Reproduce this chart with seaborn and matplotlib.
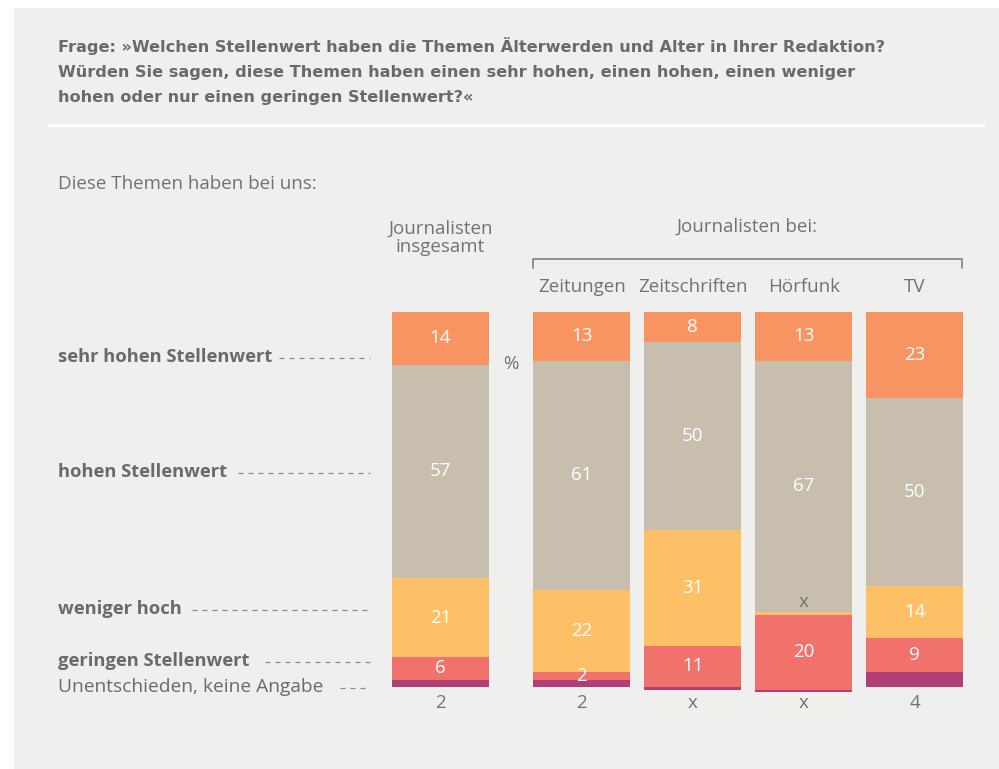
import numpy as np
import pandas as pd
import matplotlib
matplotlib.use("Agg")
import matplotlib.pyplot as plt
import seaborn as sns
from matplotlib.patches import Rectangle

# Chart data (percent). None = "x" (less than 0.5 %)
categories = ["sehr hohen Stellenwert", "hohen Stellenwert", "weniger hoch",
              "geringen Stellenwert", "Unentschieden, keine Angabe"]
groups_total = ["Journalisten\ninsgesamt"]
groups_media = ["Zeitungen", "Zeitschriften", "Hörfunk", "TV"]
values_total = [[14, 57, 21, 6, 2]]
values_media = [
    [13, 61, 22, 2, 2],
    [8, 50, 31, 11, None],
    [13, 67, None, 20, None],
    [23, 50, 14, 9, 4],
]
question = ("Frage: »Welchen Stellenwert haben die Themen Älterwerden und Alter in Ihrer Redaktion?\n"
            "Würden Sie sagen, diese Themen haben einen sehr hohen, einen hohen, einen weniger\n"
            "hohen oder nur einen geringen Stellenwert?«")

colors = ["#F89462", "#C7BEAE", "#FDC067", "#F1716C", "#B03F77"]
BG = "#EFEFEE"
GREY = "#727272"
X_SIZE = 0.7      # drawn height of an "x" segment
PX = 3.75         # pixels per percent
TOP = 312         # pixel row of bar tops
W, H = 999, 769
FS = 13.5

sns.set_style("white")
plt.rcParams["font.family"] = ["Open Sans", "DejaVu Sans"]
plt.rcParams["lines.scale_dashes"] = False

fig = plt.figure(figsize=(W / 100, H / 100), dpi=100)
fig.patch.set_facecolor("white")

# background layer in pixel coordinates
bg = fig.add_axes([0, 0, 1, 1], zorder=0)
bg.set_xlim(0, W)
bg.set_ylim(H, 0)
bg.set_axis_off()
bg.add_patch(Rectangle((14, 8), W - 14, H - 8, color=BG, lw=0))
bg.plot([47, 985], [125, 125], color="white", lw=2.2, solid_capstyle="butt")

bg.text(58, 71, question, fontsize=11.6, fontweight="bold", color="#6a6a6a",
        va="center", ha="left", linespacing=1.85, family=["DejaVu Sans"])
bg.text(58, 184, "Diese Themen haben bei uns:", fontsize=FS, color=GREY, va="center")
bg.text(440.5, 238, "Journalisten\ninsgesamt", fontsize=FS, color=GREY,
        ha="center", va="center", linespacing=1.05)
bg.text(747, 227, "Journalisten bei:", fontsize=FS, color=GREY, ha="center", va="center")
bg.plot([533, 533, 962, 962], [268, 259, 259, 268], color="#8a8a8a", lw=1.3)
bg.text(511, 364, "%", fontsize=FS, color=GREY, ha="center", va="center")

# left row labels with dashed leaders
rows = [(categories[0], 357, 279, "bold", FS - 0.3), (categories[1], 472, 238, "bold", FS - 0.3),
        (categories[2], 609, 192, "bold", FS - 0.3), (categories[3], 661, 265, "bold", FS - 0.3),
        (categories[4], 687, 340, "normal", FS + 0.3)]
for name, y, x0, wt, size in rows:
    bg.text(58, y, name, fontsize=size, fontweight=wt, color="#6a6a6a", va="center")
    bg.plot([x0, 370], [y + 1, y + 1], color="#8a8a8a", lw=0.9, dashes=(3.6, 3.6))


def make_axes(left_px, width_px):
    h = 105 * PX
    ax = fig.add_axes([left_px / W, 1 - (TOP + h) / H, width_px / W, h / H], zorder=1)
    ax.patch.set_alpha(0)
    return ax


def draw_stack(ax, groups, values, header):
    df = pd.DataFrame(values, index=groups, columns=categories)
    shown = df.fillna(X_SIZE)
    cum = shown.cumsum(axis=1)
    # draw cumulative totals from longest to shortest so they stack
    for cat, col in reversed(list(zip(categories, colors))):
        sns.barplot(x=list(cum.index), y=cum[cat].values, order=groups, color=col,
                    width=0.874, saturation=1, errorbar=None, linewidth=0, ax=ax)
    ax.set_xlim(-0.5, len(groups) - 0.5)
    ax.set_ylim(105, 0)
    ax.set_axis_off()
    for i, g in enumerate(groups):
        for j, cat in enumerate(categories[:-1]):
            v = df.loc[g, cat]
            end = cum.loc[g, cat]
            if v is None or pd.isna(v):
                ax.text(i, end - shown.loc[g, cat] - 2.7, "x", fontsize=FS, color=GREY,
                        ha="center", va="center")
            else:
                ax.text(i, end - v / 2, f"{v:g}", fontsize=FS, color="white",
                        ha="center", va="center")
        last = df.loc[g, categories[-1]]
        lab = "x" if last is None or pd.isna(last) else f"{last:g}"
        ax.text(i, (703 - TOP) / PX, lab, fontsize=FS, color=GREY, ha="center", va="center")
        if header:
            ax.text(i, (287 - TOP) / PX, g, fontsize=FS, color=GREY, ha="center", va="center")


ax1 = make_axes(385, 111)
draw_stack(ax1, groups_total, values_total, header=False)
ax2 = make_axes(526.25, 444)
draw_stack(ax2, groups_media, values_media, header=True)

fig.savefig("out.png", dpi=100, facecolor=fig.get_facecolor())
